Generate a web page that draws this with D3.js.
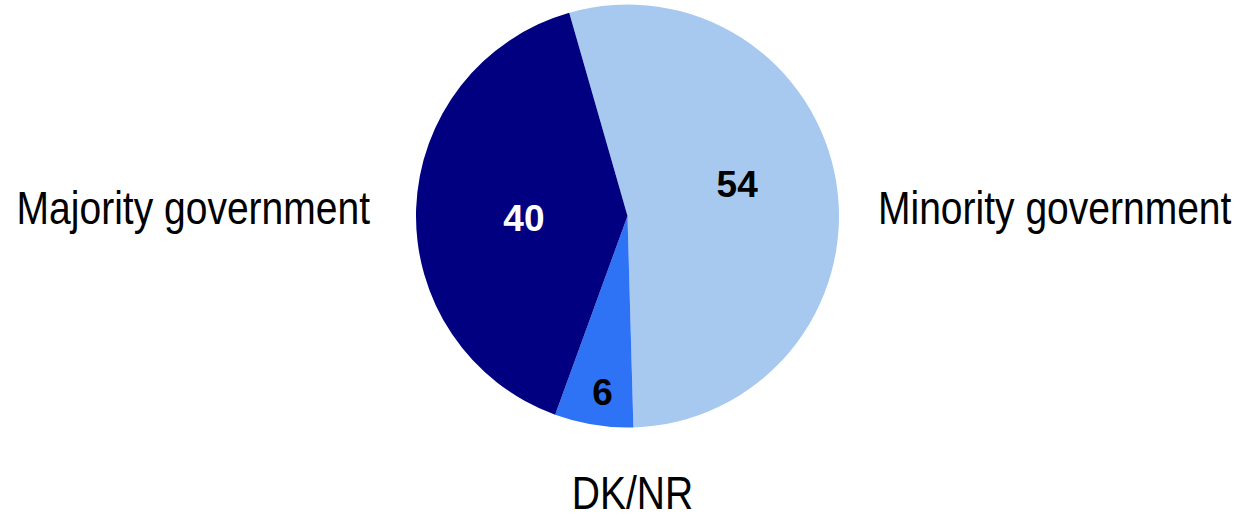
<!DOCTYPE html>
<html>
<head>
<meta charset="utf-8">
<script src="https://cdn.jsdelivr.net/npm/d3@7"></script>
<style>
  html, body { margin: 0; padding: 0; background: #fff; }
  svg { display: block; }
</style>
</head>
<body>
<svg id="chart" width="1243" height="518"></svg>
<script>
// Data
const categories = ["Minority government", "DK/NR", "Majority government"];
const values = [54, 6, 40];
const colors = ["#A8C9EF", "#2E72F6", "#000080"];
const valueLabelColors = ["#000000", "#000000", "#FFFFFF"];

const W = 1243, H = 518;
const cx = 627.5, cy = 216, R = 211.5;
const startDeg = -16;

const svg = d3.select("#chart");
const g = svg.append("g").attr("transform", `translate(${cx},${cy})`);

const pie = d3.pie()
  .sort(null)
  .value(d => d.value)
  .startAngle(startDeg * Math.PI / 180)
  .endAngle((startDeg + 360) * Math.PI / 180);

const data = categories.map((c, i) => ({ name: c, value: values[i], color: colors[i], lc: valueLabelColors[i] }));
const arcs = pie(data);

const arc = d3.arc().innerRadius(0).outerRadius(R);

g.selectAll("path.slice")
  .data(arcs)
  .enter().append("path")
  .attr("class", "slice")
  .attr("d", arc)
  .attr("fill", d => d.data.color);

// Value labels (placed on a label arc, angle nudged slightly like the reference's best-fit layout)
g.selectAll("text.val")
  .data(arcs)
  .enter().append("text")
  .attr("class", "val")
  .attr("transform", d => {
    const frac = (d.endAngle - d.startAngle) / (2 * Math.PI);
    const lr = frac < 0.1 ? R * 0.84 : (frac > 0.5 ? R * 0.54 : R * 0.49);
    const mid = (d.startAngle + d.endAngle) / 2 - (frac > 0.5 ? 0.13 : (frac < 0.1 ? 0.02 : 0.05));
    const x = lr * Math.sin(mid), y = -lr * Math.cos(mid);
    return `translate(${x},${y})`;
  })
  .attr("text-anchor", "middle")
  .attr("dy", "0.36em")
  .attr("font-family", "'Liberation Sans', Arial, sans-serif")
  .attr("font-weight", "bold")
  .attr("font-size", 37)
  .attr("fill", d => d.data.lc)
  .text(d => d.data.value);

// Category labels
const catFont = 47, squeeze = 0.83;
function catLabel(name, x, y, anchor) {
  svg.append("text")
    .attr("transform", `translate(${x},${y}) scale(${squeeze},1)`)
    .attr("text-anchor", anchor)
    .attr("font-family", "'Liberation Sans', Arial, sans-serif")
    .attr("font-size", catFont)
    .attr("fill", "#000")
    .text(name);
}
catLabel("Majority government", cx - R - 46, cy + 8, "end");
catLabel("Minority government", cx + R + 39, cy + 8, "start");
catLabel("DK/NR", cx + 5, cy + R + 81, "middle");
</script>
</body>
</html>
